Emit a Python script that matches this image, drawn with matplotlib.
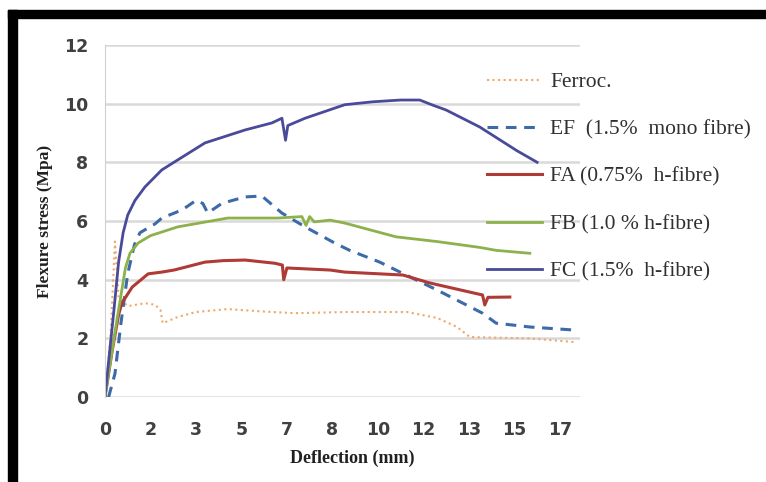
import matplotlib.pyplot as plt
from matplotlib.patches import Rectangle

# 横轴为分类位置（Excel 折线图），刻度标签不等距
tick_labels = ['0', '2', '3', '5', '7', '8', '10', '12', '13', '15', '17']

# 各曲线（位置, 应力 MPa）
ferroc_x = [0, 0.12, 0.22, 0.3, 0.5, 0.88, 1.1, 1.22, 1.27, 1.6, 2.0, 2.7, 3.45, 4.18,
            5.27, 6.64, 7.3, 7.74, 8.02, 9.34, 10.3]
ferroc_y = [0, 2.0, 5.3, 3.4, 3.1, 3.2, 3.15, 2.97, 2.52, 2.73, 2.9, 3.0, 2.92, 2.86,
            2.9, 2.9, 2.7, 2.39, 2.05, 2.0, 1.88]

ef_x = [0.08, 0.22, 0.35, 0.5, 0.65, 0.77, 1.1, 1.25, 1.7, 2.0, 2.15, 2.26, 2.57, 3.08,
        3.45, 3.89, 4.4, 5.05, 5.38, 6.04, 6.5, 7.3, 7.87, 8.3, 8.6, 9.34, 10.37]
ef_y = [0, 0.8, 2.5, 4.2, 5.2, 5.6, 5.9, 6.1, 6.38, 6.7, 6.6, 6.27, 6.6, 6.82,
        6.85, 6.27, 5.8, 5.25, 5.0, 4.6, 4.25, 3.65, 3.2, 2.86, 2.52, 2.39, 2.28]

fa_x = [0, 0.15, 0.3, 0.37, 0.6, 0.95, 1.25, 1.52, 2.2, 2.6, 3.08, 3.74, 3.9, 3.93, 4.0,
        4.95, 5.27, 6.55, 7.14, 8.3, 8.35, 8.42, 8.9]
fa_y = [0, 1.5, 2.8, 3.2, 3.75, 4.2, 4.26, 4.33, 4.6, 4.65, 4.67, 4.56, 4.5, 4.0, 4.4,
        4.33, 4.26, 4.16, 3.89, 3.48, 3.14, 3.4, 3.41]

fb_x = [0, 0.25, 0.45, 0.55, 0.73, 1.0, 1.6, 2.7, 3.8, 4.33, 4.42, 4.5, 4.6, 4.95, 5.27,
        6.4, 7.3, 8.24, 8.6, 9.34]
fb_y = [0, 2.5, 4.4, 4.9, 5.25, 5.5, 5.8, 6.1, 6.1, 6.15, 5.85, 6.15, 5.97, 6.03, 5.93,
        5.46, 5.3, 5.1, 5.0, 4.9]

fc_x = [0, 0.1, 0.2, 0.3, 0.4, 0.5, 0.66, 0.88, 1.25, 1.6, 2.2, 3.08, 3.67, 3.89, 3.97,
        4.02, 4.4, 5.27, 5.89, 6.5, 6.92, 7.2, 7.5, 8.24, 9.05, 9.5]
fc_y = [0, 1.5, 3.0, 4.6, 5.6, 6.2, 6.7, 7.16, 7.74, 8.08, 8.66, 9.1, 9.34, 9.5, 8.75,
        9.25, 9.5, 9.96, 10.06, 10.12, 10.12, 9.95, 9.78, 9.2, 8.4, 8.0]

fig = plt.figure(figsize=(7.66, 4.82), dpi=100)
ax = fig.add_axes([0.137, 0.176, 0.62, 0.731])

# 黑色边框（上、左）
fig.patches.append(Rectangle((8 / 766, 1 - 18 / 482), 1, 8 / 482, transform=fig.transFigure,
                             color='black', zorder=0))
fig.patches.append(Rectangle((8 / 766, 0), 9 / 766, 1 - 10 / 482, transform=fig.transFigure,
                             color='black', zorder=0))

ax.plot(ferroc_x, ferroc_y, color='#f0a868', lw=1.5, ls=':', label='Ferroc.')
ax.plot(ef_x, ef_y, color='#3d6aa8', lw=2.2, ls=(0, (3.5, 2.5)), label='EF  (1.5%  mono fibre)')
ax.plot(fa_x, fa_y, color='#b03a36', lw=2.2, label='FA (0.75%  h-fibre)')
ax.plot(fb_x, fb_y, color='#8db14b', lw=2, label='FB (1.0 % h-fibre)')
ax.plot(fc_x, fc_y, color='#4a4a9a', lw=2, label='FC (1.5%  h-fibre)')

ax.set_xlim(0, 10.44)
ax.set_ylim(0, 12)
ax.set_xticks(range(len(tick_labels)))
ax.set_xticklabels(tick_labels)
ax.set_yticks(range(0, 13, 2))
ax.tick_params(length=0, labelsize=12.5, labelcolor='#404040')
ax.tick_params(axis='x', pad=17)
ax.tick_params(axis='y', pad=12)
for lab in ax.get_xticklabels() + ax.get_yticklabels():
    lab.set_fontweight('bold')
ax.grid(axis='y', color='#d9d9d9', lw=1.8)
ax.set_axisbelow(True)
for s in ['top', 'right', 'bottom']:
    ax.spines[s].set_visible(False)
ax.spines['left'].set_color('#d0d0d0')

ax.set_xlabel('Deflection (mm)', fontsize=13, fontweight='bold', family='Liberation Serif',
              color='#202020')
ax.xaxis.set_label_coords(0.52, -0.15)
ax.set_ylabel('Flexure stress (Mpa)', fontsize=12.5, fontweight='bold', family='Liberation Serif',
              labelpad=8, color='#202020')

leg = ax.legend(loc='upper left', bbox_to_anchor=(487 / 766, 1 - 72 / 482),
                bbox_transform=fig.transFigure, frameon=False,
                prop={'family': 'Liberation Serif', 'size': 15.5},
                handlelength=2.56, handletextpad=0.37, labelspacing=1.27, borderaxespad=0,
                borderpad=0)
for t in leg.get_texts():
    t.set_color('#303030')

plt.savefig('out.png', dpi=100)
